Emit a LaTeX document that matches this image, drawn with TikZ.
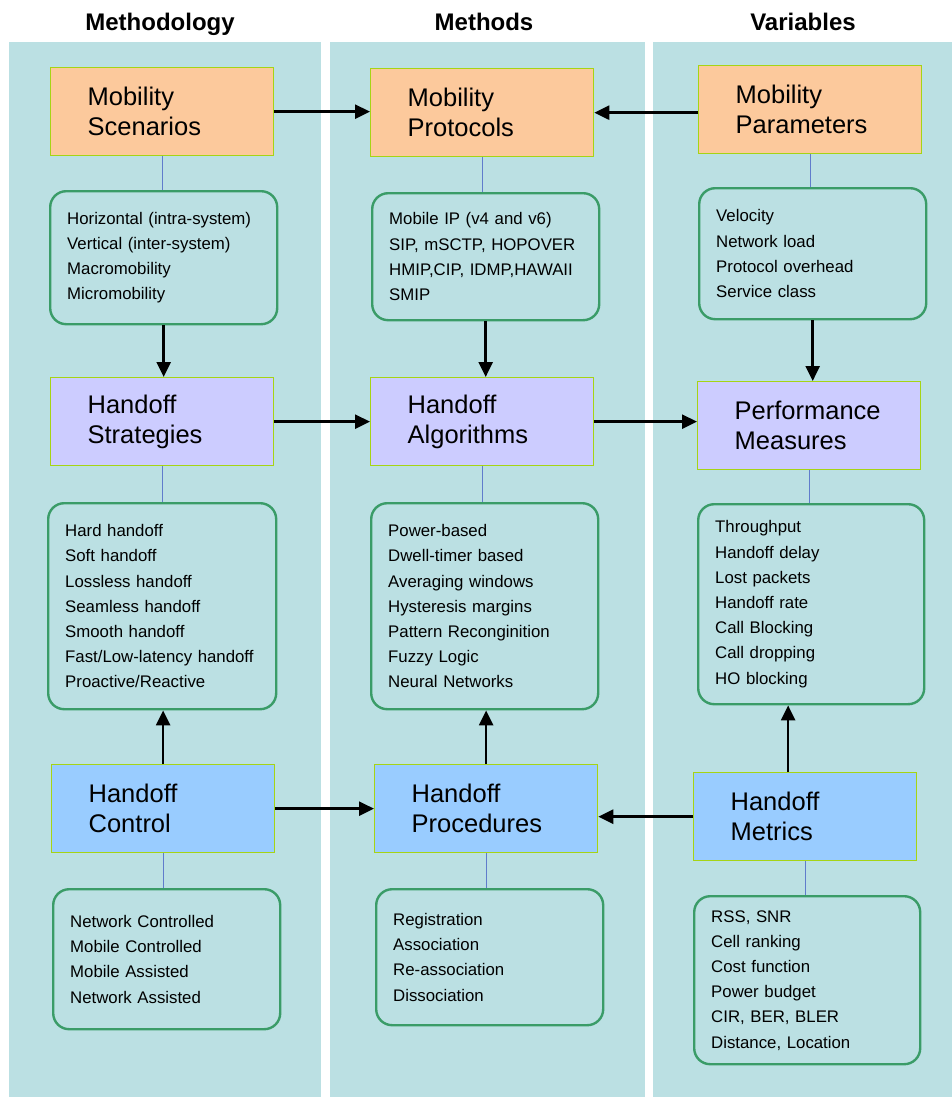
\documentclass[tikz,border=0pt]{standalone}
\usepackage{fontspec}
\setmainfont{Liberation Sans}
\usepackage{tikz}
\usetikzlibrary{arrows.meta}
\usetikzlibrary{calc}

\definecolor{panelbg}{RGB}{187,224,227}
\definecolor{mobfill}{RGB}{252,201,156}
\definecolor{algfill}{RGB}{204,204,255}
\definecolor{ctrlfill}{RGB}{153,204,255}
\definecolor{boxedge}{RGB}{166,212,20}
\definecolor{listedge}{RGB}{58,156,104}
\definecolor{linkblue}{RGB}{96,124,204}

\begin{document}
\begin{tikzpicture}[
        x=1pt, y=-1pt,
        heading/.style={font=\fontsize{24}{28}\selectfont\bfseries, anchor=base},
        topic/.style={draw=boxedge, line width=1.3pt, anchor=north west,
            minimum width=223pt, minimum height=88pt, text width=149pt,
            inner xsep=37pt, inner ysep=0pt, align=left,
            font=\fontsize{25.5}{30}\selectfont},
        items/.style 2 args={draw=listedge, line width=2.4pt, rounded corners=16pt,
            anchor=north west, minimum width=#1pt, text width=#1pt-34pt,
            minimum height=#2pt, inner xsep=17pt, inner ysep=0pt, align=left,
            font=\fontsize{16.8}{25.2}\selectfont},
        flow/.style={-{Triangle[length=15pt, width=14pt]}, line width=2.6pt},
        link/.style={linkblue, line width=1.2pt}
    ]
        \useasboundingbox (0,0) rectangle (952,1097);

        % --- Background columns ---
        \fill[panelbg] (9,42) rectangle (321,1097);
        \fill[panelbg] (330,42) rectangle (645,1097);
        \fill[panelbg] (653,42) rectangle (952,1097);

        % --- Column headings ---
        \node[heading] (HeadA) at (160,31) {Methodology};
        \node[heading] (HeadB) at (484,31) {Methods};
        \node[heading] (HeadC) at (803,31) {Variables};

        % --- Mobility row ---
        \node[topic, fill=mobfill] (Scen) at (50,67) {Mobility\\Scenarios};
        \node[topic, fill=mobfill] (Prot) at (370,68) {Mobility\\Protocols};
        \node[topic, fill=mobfill] (Param) at (698,65) {Mobility\\Parameters};

        \node[items={227}{133}] (ScenList) at (49,190)
            {Horizontal (intra-system)\\Vertical (inter-system)\\Macromobility\\Micromobility};
        \node[items={227}{127}] (ProtList) at (371,192)
            {Mobile IP (v4 and v6)\\SIP, mSCTP, HOPOVER\\HMIP,CIP, IDMP,HAWAII\\SMIP};
        \node[items={227}{131}] (ParamList) at (698,187)
            {Velocity\\Network load\\Protocol overhead\\Service class};

        % --- Handoff row ---
        \node[topic, fill=algfill] (Strat) at (50,377) {Handoff\\Strategies};
        \node[topic, fill=algfill] (Algo) at (370,377) {Handoff\\Algorithms};
        \node[topic, fill=algfill] (Perf) at (697,381) {Performance\\Measures};

        \node[items={228}{206}] (StratList) at (47,502)
            {Hard handoff\\Soft handoff\\Lossless handoff\\Seamless handoff\\Smooth handoff\\Fast/Low-latency handoff\\Proactive/Reactive};
        \node[items={227}{206}] (AlgoList) at (370,502)
            {Power-based\\Dwell-timer based\\Averaging windows\\Hysteresis margins\\Pattern Reconginition\\Fuzzy Logic\\Neural Networks};
        \node[items={226}{200}] (PerfList) at (697,503)
            {Throughput\\Handoff delay\\Lost packets\\Handoff rate\\Call Blocking\\Call dropping\\HO blocking};

        % --- Control row ---
        \node[topic, fill=ctrlfill] (Ctrl) at (51,764) {Handoff\\Control};
        \node[topic, fill=ctrlfill] (Proc) at (374,764) {Handoff\\Procedures};
        \node[topic, fill=ctrlfill] (Metr) at (693,772) {Handoff\\Metrics};

        \node[items={227}{140}] (CtrlList) at (52,888)
            {Network Controlled\\Mobile Controlled\\Mobile Assisted\\Network Assisted};
        \node[items={227}{136}] (ProcList) at (375,888)
            {Registration\\Association\\Re-association\\Dissociation};
        \node[items={226}{168}] (MetrList) at (693,895)
            {RSS, SNR\\Cell ranking\\Cost function\\Power budget\\CIR, BER, BLER\\Distance, Location};

        % --- Thin links box -> list ---
        \foreach \hdr/\lst in {Scen/ScenList, Prot/ProtList, Param/ParamList,
                Strat/StratList, Algo/AlgoList, Perf/PerfList,
                Ctrl/CtrlList, Proc/ProcList, Metr/MetrList}
            \draw[link] (\hdr.south) -- (\hdr.south |- \lst.north);

        % --- Arrows ---
        \draw[flow] (Scen.east) -- (Scen.east -| Prot.west);
        \draw[flow] (Param.west |- Prot.east) -- (Prot.east);
        \draw[flow] (ScenList.south) -- (ScenList.south |- Strat.north);
        \draw[flow] (ProtList.south) -- (ProtList.south |- Algo.north);
        \draw[flow] (ParamList.south) -- (ParamList.south |- Perf.north);
        \draw[flow] (Strat.east) -- (Strat.east -| Algo.west);
        \draw[flow] (Algo.east) -- (Algo.east -| Perf.west);
        \draw[flow] (Ctrl.north) -- (Ctrl.north |- StratList.south);
        \draw[flow] (Proc.north) -- (Proc.north |- AlgoList.south);
        \draw[flow] ([xshift=-17pt]Metr.north) -- ([xshift=-17pt]Metr.north |- PerfList.south);
        \draw[flow] (Ctrl.east) -- (Ctrl.east -| Proc.west);
        \draw[flow] (Metr.west) -- (Metr.west -| Proc.east);

\end{tikzpicture}
\end{document}
